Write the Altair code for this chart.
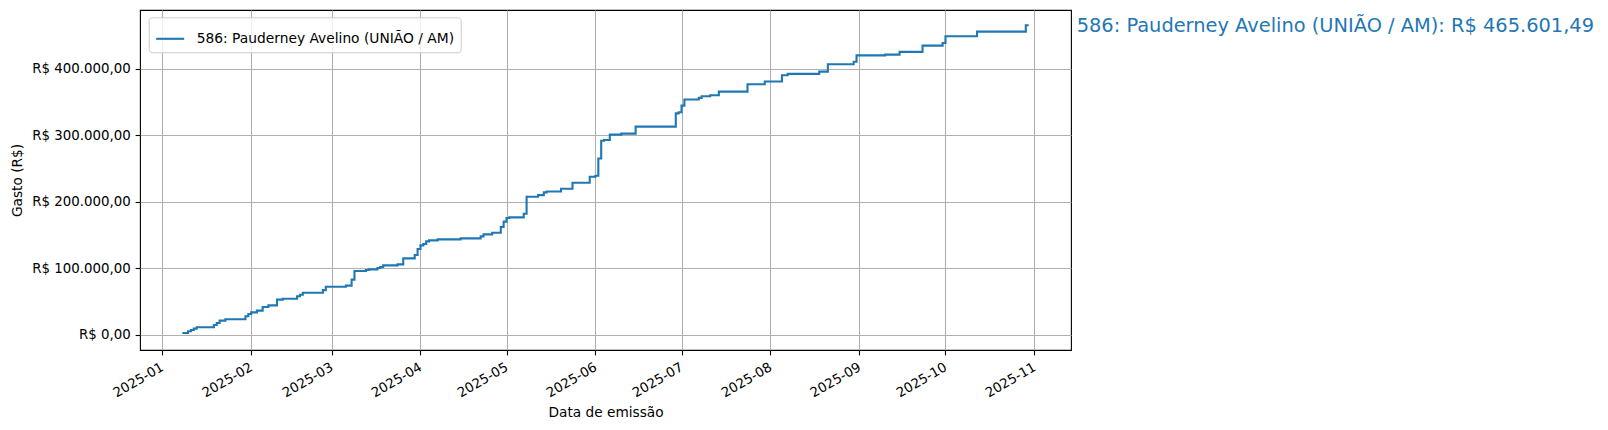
import altair as alt
import pandas as pd

# ---- data ----
dates = [
    "2025-01-08", "2025-01-10", "2025-01-11", "2025-01-12", "2025-01-13", "2025-01-19",
    "2025-01-20", "2025-01-21", "2025-01-23", "2025-01-30", "2025-01-31", "2025-02-01",
    "2025-02-03", "2025-02-05", "2025-02-07", "2025-02-10", "2025-02-12", "2025-02-17",
    "2025-02-18", "2025-02-19", "2025-02-26", "2025-02-27", "2025-03-06", "2025-03-08",
    "2025-03-09", "2025-03-13", "2025-03-14", "2025-03-17", "2025-03-18", "2025-03-19",
    "2025-03-24", "2025-03-26", "2025-03-30", "2025-03-31", "2025-04-01", "2025-04-02",
    "2025-04-03", "2025-04-04", "2025-04-07", "2025-04-15", "2025-04-22", "2025-04-23",
    "2025-04-26", "2025-04-29", "2025-04-30", "2025-05-01", "2025-05-02", "2025-05-07",
    "2025-05-08", "2025-05-12", "2025-05-14", "2025-05-15", "2025-05-20", "2025-05-24",
    "2025-05-30", "2025-06-01", "2025-06-02", "2025-06-03", "2025-06-04", "2025-06-06",
    "2025-06-10", "2025-06-15", "2025-06-29", "2025-06-30", "2025-07-01", "2025-07-02",
    "2025-07-07", "2025-07-08", "2025-07-11", "2025-07-14", "2025-07-24", "2025-07-30",
    "2025-08-05", "2025-08-07", "2025-08-18", "2025-08-21", "2025-08-30", "2025-08-31",
    "2025-09-10", "2025-09-15", "2025-09-23", "2025-09-30", "2025-10-01", "2025-10-12",
    "2025-10-29", "2025-10-30",
]
gasto = [
    2500, 5000, 7000, 9000, 11000, 14500,
    17500, 21000, 23000, 27500, 31000, 33500,
    36000, 41500, 44000, 52600, 54000, 57600,
    60000, 63000, 67000, 72000, 73700, 82700,
    95800, 97300, 98200, 100300, 101800, 104200,
    105700, 114700, 119800, 128800, 134300, 136400,
    140300, 141800, 143300, 144800, 147800, 150800,
    153400, 162000, 170000, 175500, 176500, 182000,
    207500, 210000, 214000, 215500, 219500, 228500,
    237500, 239000, 265000, 291700, 293000, 301000,
    302500, 313000, 333000, 334600, 344700, 353800,
    356300, 358700, 360200, 365800, 376800, 380900,
    390400, 392400, 395900, 406900, 410800, 420300,
    421500, 425600, 435000, 439000, 449000, 456000,
    465601.49, 465601.49,
]
serie = "586: Pauderney Avelino (UNIÃO / AM)"
total_label = "586: Pauderney Avelino (UNIÃO / AM): R$ 465.601,49"
y_ticks = [0, 100000, 200000, 300000, 400000]
month_ticks = [(2025, m) for m in range(1, 12)]

BLUE = "#1f77b4"
FONT = "DejaVu Sans"

df = pd.DataFrame({"data": dates, "gasto": gasto, "serie": serie})
df_end = pd.DataFrame({"data": [dates[-1]], "gasto": [gasto[-1]], "rotulo": [total_label]})

x_scale = alt.Scale(
    type="utc",
    domain=[
        alt.DateTime(year=2024, month=12, date=24, hours=6, utc=True),
        alt.DateTime(year=2025, month=11, date=13, hours=18, utc=True),
    ],
)
y_scale = alt.Scale(domain=[-23200, 488600], nice=False, zero=False)

x_axis = alt.Axis(
    title="Data de emissão",
    values=[alt.DateTime(year=y, month=m, date=1, utc=True) for (y, m) in month_ticks],
    labelExpr="utcFormat(datum.value, '%Y-%m')",
    labelAngle=330,
    labelAlign="right",
    labelBaseline="middle",
    labelPadding=11,
    titleX=465.5,
    titleY=62,
    titleBaseline="middle",
    titleAlign="center",
)
y_axis = alt.Axis(
    title="Gasto (R$)",
    values=y_ticks,
    labelExpr="'R$ ' + (datum.value == 0 ? '0' : format(datum.value / 1000, 'd') + '.000') + ',00'",
    labelPadding=4.9,
    titleAngle=270,
    titleX=-123,
    titleY=170,
    titleAlign="center",
    titleBaseline="middle",
)

line = alt.Chart(df).mark_line(interpolate="step-after", strokeWidth=2.1).encode(
    x=alt.X("data:T", scale=x_scale, axis=x_axis),
    y=alt.Y("gasto:Q", scale=y_scale, axis=y_axis),
    color=alt.Color(
        "serie:N",
        scale=alt.Scale(domain=[serie], range=[BLUE]),
        legend=alt.Legend(
            title=None,
            orient="none",
            legendX=8.7,
            legendY=7.3,
            symbolType="stroke",
            symbolSize=784,
            symbolStrokeWidth=2.1,
            labelFontSize=13.8,
            labelFont=FONT,
            labelColor="#000000",
            labelLimit=500,
            labelOffset=11,
            padding=6,
            fillColor="rgba(255,255,255,0.8)",
            strokeColor="#cccccc",
            cornerRadius=3,
        ),
    ),
)

label = alt.Chart(df_end).mark_text(
    align="left", baseline="middle", dx=48, dy=1, fontSize=19.4, font=FONT, color=BLUE
).encode(
    x=alt.X("data:T", scale=x_scale),
    y=alt.Y("gasto:Q", scale=y_scale),
    text="rotulo:N",
)

chart = (
    alt.layer(line, label)
    .properties(
        width=931,
        height=340,
        autosize=alt.AutoSizeParams(type="none"),
        padding={"left": 132, "top": 2, "right": 529, "bottom": 70},
    )
    .configure_view(stroke="#000000", strokeWidth=1.1)
    .configure_axis(
        domain=False,
        grid=True,
        gridColor="#b0b0b0",
        gridWidth=1.1,
        tickColor="#000000",
        tickSize=4.9,
        tickWidth=1.1,
        labelFont=FONT,
        labelFontSize=13.35,
        labelColor="#000000",
        titleFont=FONT,
        titleFontSize=13.7,
        titleFontWeight="normal",
        titleColor="#000000",
    )
)

chart.save("out.html", embed_options={"renderer": "svg", "actions": False})
